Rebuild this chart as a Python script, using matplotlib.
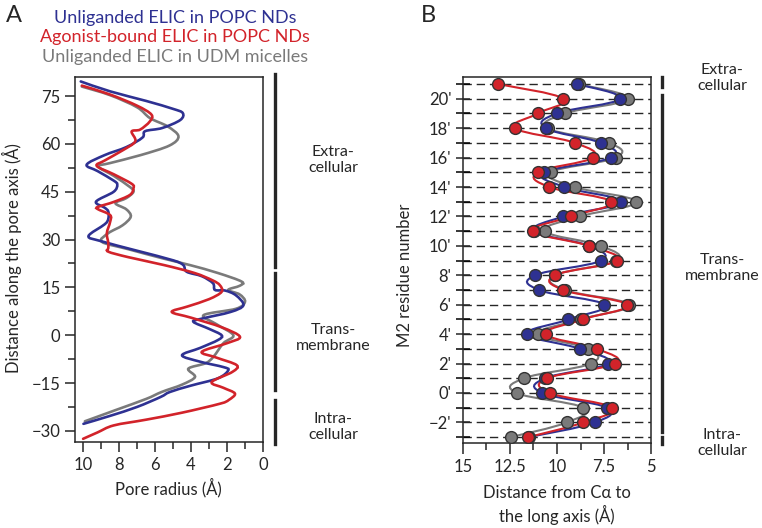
import numpy as np
import matplotlib
matplotlib.use('Agg')
import matplotlib.pyplot as plt
from matplotlib.path import Path
from matplotlib.patches import PathPatch
from matplotlib.ticker import MultipleLocator, FixedLocator
import matplotlib.transforms as mtransforms

plt.rcParams['font.family'] = ['Lato', 'DejaVu Sans']

BLUE = '#2e3192'
RED = '#d2232a'
GRAY = '#7a7a7a'
INK = '#262626'

# Panel A: pore radius profiles (radius in A, distance along the pore axis in A)
blue_r = [10.13, 8.5, 6.5, 5.0, 4.46, 4.6, 5.6, 6.55, 6.7, 7.6, 8.8, 9.8, 9.2, 8.3, 8.1, 8.3, 9.28, 8.8, 8.6, 8.6,
          8.8, 9.7, 9.0, 7.0, 5.0, 4.43, 4.24, 3.4, 2.78, 2.67, 2.1, 1.5, 1.09, 1.8, 3.4, 3.87, 3.0, 2.3, 2.5, 3.5,
          4.5, 3.5, 2.2, 1.93, 2.5, 4.0, 5.17, 5.7, 7.0, 8.5, 9.98]
blue_z = [79.6, 76.5, 73.5, 71.0, 69.7, 67.5, 65.0, 64.0, 62.0, 59.0, 56.5, 53.5, 51.5, 48.5, 47.2, 45.0, 41.9, 40.0,
          38.8, 36.5, 34.8, 31.1, 29.5, 26.5, 23.5, 22.0, 19.9, 18.5, 16.3, 14.2, 14.0, 12.5, 9.4, 7.3, 5.2, 4.2,
          2.0, 0.0, -1.5, -4.0, -6.3, -8.3, -10.0, -11.0, -13.5, -15.8, -17.8, -19.4, -22.5, -25.3, -27.8]

red_r = [10.07, 8.5, 7.0, 6.2, 6.3, 6.83, 7.3, 7.1, 7.8, 8.8, 9.24, 8.3, 7.3, 7.2, 7.4, 8.3, 9.15, 9.2, 8.5, 8.5,
         8.68, 8.6, 8.6, 8.6, 7.5, 5.5, 3.8, 2.8, 2.4, 2.3, 3.0, 4.2, 5.07, 4.0, 2.3, 1.28, 2.0, 3.4, 2.6, 1.46,
         1.7, 2.85, 2.2, 1.56, 1.9, 2.4, 4.5, 6.5, 8.3, 9.2, 10.0]
red_z = [78.3, 75.5, 72.0, 69.2, 67.0, 64.5, 63.9, 60.8, 58.0, 54.8, 53.1, 50.5, 47.5, 46.1, 44.0, 41.8, 40.3, 39.6,
         37.7, 35.5, 32.0, 29.0, 27.3, 26.2, 24.5, 22.0, 19.5, 17.2, 15.7, 13.6, 11.3, 9.0, 7.3, 5.5, 2.5, -0.5,
         -2.5, -5.2, -7.0, -9.4, -11.5, -14.7, -16.5, -18.3, -20.3, -21.5, -24.3, -26.5, -28.3, -30.5, -32.5]

gray_r = [10.07, 8.5, 7.0, 6.28, 5.3, 4.7, 5.2, 6.8, 8.5, 9.15, 8.3, 7.4, 7.2, 7.6, 8.2, 7.6, 7.35, 7.8, 8.6, 8.96,
          7.5, 5.5, 4.06, 2.5, 1.18, 1.3, 1.93, 1.3, 1.0, 1.5, 3.3, 2.6, 1.65, 2.2, 2.76, 3.2, 4.15, 3.78, 4.5,
          5.63, 6.5, 8.2, 9.9]
gray_z = [78.0, 75.3, 71.5, 68.1, 65.5, 62.4, 59.5, 56.5, 54.0, 52.9, 50.0, 46.5, 45.0, 43.0, 41.4, 39.5, 37.2,
          34.5, 32.0, 29.3, 27.0, 24.0, 22.0, 19.5, 16.8, 15.5, 14.2, 12.8, 10.5, 8.3, 6.3, 3.5, 0.0, -2.5, -6.8,
          -8.8, -10.5, -13.1, -15.5, -17.8, -20.0, -23.5, -27.0]

# Panel B: distance of Calpha from the long axis per M2 residue
residues = list(range(21, -4, -1))
red_d = [13.12, 9.66, 11.03, 12.23, 9.04, 8.1, 11.03, 10.41, 7.13, 9.26, 11.26, 8.3, 6.82, 10.11, 9.66, 6.29,
         8.63, 10.59, 7.86, 6.91, 10.52, 10.37, 7.06, 8.6, 11.52]
blue_d = [8.92, 6.65, 10.02, 10.6, 7.68, 7.13, 10.69, 9.61, 6.6, 9.66, 11.2, 8.3, 7.66, 11.17, 10.96, 7.48,
          9.4, 11.58, 8.78, 7.3, 10.64, 10.78, 7.36, 7.98, 11.5]
gray_d = [8.85, 6.24, 9.57, 10.5, 7.22, 6.88, 10.34, 9.04, 5.8, 8.78, 10.64, 7.66, 6.85, 10.1, 9.57, 6.15,
          8.75, 11.0, 8.34, 8.21, 11.76, 12.14, 8.6, 9.48, 12.46]

legend_labels = ['Unliganded ELIC in POPC NDs', 'Agonist-bound ELIC in POPC NDs', 'Unliganded ELIC in UDM micelles']


def smooth_path(xs, ys, k=6.0):
    # Catmull-Rom curve through the points, drawn as cubic Bezier segments
    p = np.column_stack([xs, ys]).astype(float)
    p = np.vstack([p[0], p, p[-1]])
    verts = [p[1]]
    codes = [Path.MOVETO]
    for i in range(1, len(p) - 2):
        c1 = p[i] + (p[i + 1] - p[i - 1]) / k
        c2 = p[i + 1] - (p[i + 2] - p[i]) / k
        verts += [c1, c2, p[i + 1]]
        codes += [Path.CURVE4] * 3
    return Path(verts, codes)


fig = plt.figure(figsize=(7.62, 5.28), dpi=100)
W, H = 762, 528

axA = fig.add_axes([75 / W, 1 - 442 / H, 188 / W, 365 / H])
axB = fig.add_axes([463 / W, 1 - 443 / H, 188 / W, 366 / H])

for ax in (axA, axB):
    for s in ax.spines.values():
        s.set_color(INK)
        s.set_linewidth(1.1)
    ax.tick_params(colors=INK, labelsize=12, width=1.1)

# ---- Panel A
for xs, ys, col in [(gray_r, gray_z, GRAY), (blue_r, blue_z, BLUE), (red_r, red_z, RED)]:
    axA.add_patch(PathPatch(smooth_path(xs, ys), facecolor='none', edgecolor=col, lw=1.9, capstyle='round'))
axA.set_xlim(10.45, 0)
axA.set_ylim(-33.5, 81)
axA.xaxis.set_major_locator(MultipleLocator(2))
axA.xaxis.set_minor_locator(MultipleLocator(1))
axA.yaxis.set_major_locator(MultipleLocator(15))
axA.yaxis.set_minor_locator(MultipleLocator(7.5))
axA.tick_params(which='major', length=7)
axA.tick_params(which='minor', length=5, width=1.1, colors=INK)
axA.set_yticks([75, 60, 45, 30, 15, 0, -15, -30])
axA.set_yticklabels(['75', '60', '45', '30', '15', '0', '\u221215', '\u221230'])

trA = mtransforms.blended_transform_factory(axA.transAxes, axA.transData)
for y0, y1 in [(81.8, 21.4), (19.5, -17.3), (-20.4, -34)]:
    axA.plot([1.064, 1.064], [y0, y1], color=INK, lw=2.4, transform=trA, clip_on=False)

for txt, y in [('Extra-\ncellular', 160), ('Trans-\nmembrane', 338), ('Intra-\ncellular', 427)]:
    fig.text(333 / W, 1 - y / H, txt, ha='center', va='center', fontsize=11.5, color=INK, linespacing=1.15)

for txt, col, y in zip(legend_labels, [BLUE, RED, GRAY], [18, 37, 57]):
    fig.text(175 / W, 1 - y / H, txt, ha='center', va='center', fontsize=13, color=col)

fig.text(12 / W, 1 - 258 / H, 'Distance along the pore axis (\u00c5)', rotation=90, ha='center', va='center',
         fontsize=12, color=INK)
fig.text(168 / W, 1 - 488 / H, 'Pore radius (\u00c5)', ha='center', va='center', fontsize=12, color=INK)
fig.text(14 / W, 1 - 15 / H, 'A', ha='center', va='center', fontsize=17, color=INK)

# ---- Panel B
for r in range(-3, 22):
    axB.axhline(r, color=INK, lw=1.0, dashes=(6, 3.5), zorder=1)

for xs, col in [(gray_d, GRAY), (blue_d, BLUE), (red_d, RED)]:
    axB.add_patch(PathPatch(smooth_path(xs, residues, k=5.0), facecolor='none', edgecolor=col, lw=1.5, zorder=2))
for xs, col in [(gray_d, GRAY), (blue_d, BLUE), (red_d, RED)]:
    axB.plot(xs, residues, 'o', color=col, ms=8.5, mec='#333333', mew=1.0, zorder=3, ls='none')

axB.set_xlim(15, 5)
axB.set_ylim(-3.4, 21.48)
axB.xaxis.set_major_locator(FixedLocator([15, 12.5, 10, 7.5, 5]))
axB.xaxis.set_minor_locator(MultipleLocator(1.25))
axB.set_xticklabels(['15', '12.5', '10', '7.5', '5'])
axB.yaxis.set_major_locator(MultipleLocator(2))
axB.yaxis.set_minor_locator(MultipleLocator(1))
yt = list(range(-2, 22, 2))
axB.set_yticks(yt)
axB.set_yticklabels([("\u2212%d'" % -v) if v < 0 else "%d'" % v for v in yt])
axB.tick_params(axis='y', which='both', direction='inout', length=10, width=1.1)
axB.tick_params(axis='x', which='major', length=8)
axB.tick_params(axis='x', which='minor', length=5, width=1.1, colors=INK)

trB = mtransforms.blended_transform_factory(axB.transAxes, axB.transData)
for y0, y1 in [(21.47, 20.8), (20.25, -2.66), (-3.0, -3.5)]:
    axB.plot([1.056, 1.056], [y0, y1], color=INK, lw=2.4, transform=trB, clip_on=False)

for txt, y in [('Extra-\ncellular', 78), ('Trans-\nmembrane', 268), ('Intra-\ncellular', 443)]:
    fig.text(722 / W, 1 - y / H, txt, ha='center', va='center', fontsize=11.5, color=INK, linespacing=1.15)

fig.text(405 / W, 1 - 275 / H, 'M2 residue number', rotation=90, ha='center', va='center', fontsize=12, color=INK)
fig.text(557 / W, 1 - 505 / H, 'Distance from C\u03b1 to\nthe long axis (\u00c5)', ha='center', va='center',
         fontsize=12, color=INK, linespacing=1.2)
fig.text(428 / W, 1 - 15 / H, 'B', ha='center', va='center', fontsize=17, color=INK)

fig.savefig('out.png', dpi=100)
